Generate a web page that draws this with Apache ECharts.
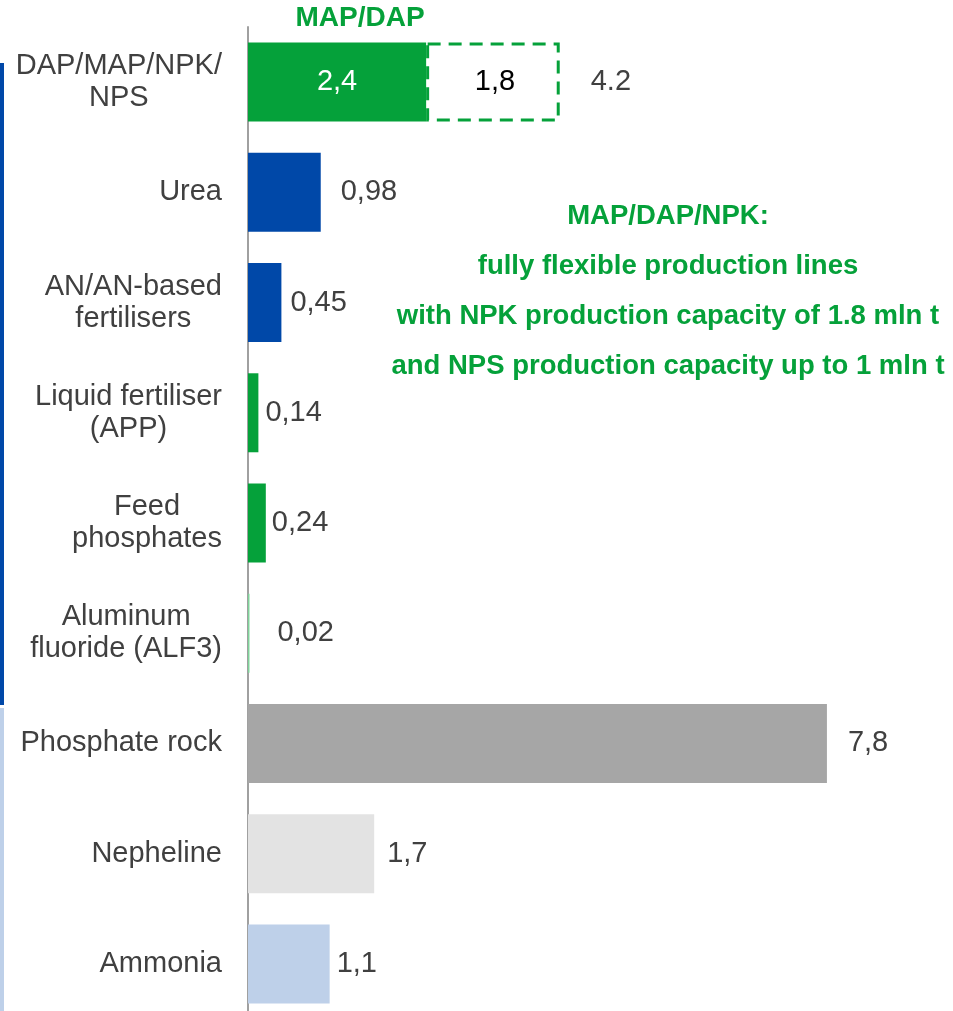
<!DOCTYPE html>
<html>
<head>
<meta charset="utf-8">
<script src="https://cdn.jsdelivr.net/npm/echarts@6/dist/echarts.min.js"></script>
<style>
html,body{margin:0;padding:0;background:#fff;overflow:hidden;}
#chart{width:953px;height:1030px;}
</style>
</head>
<body>
<div id="chart"></div>
<script>
// ---- data ----
const categories = [
  'DAP/MAP/NPK/\nNPS', 'Urea', 'AN/AN-based\nfertilisers', 'Liquid fertiliser\n(APP)',
  'Feed\nphosphates', 'Aluminum\nfluoride (ALF3)', 'Phosphate rock', 'Nepheline', 'Ammonia'
];
const capacity = [2.4, 0.98, 0.45, 0.14, 0.24, 0.02, 7.8, 1.7, 1.1];
const flexibleNPK = [1.8, null, null, null, null, null, null, null, null];
const totalLabel = ['4.2', null, null, null, null, null, null, null, null];
const noteLines = [
  'MAP/DAP/NPK:',
  'fully flexible production lines',
  'with NPK production capacity of 1.8 mln t',
  'and NPS production capacity up to 1 mln t'
];
const topNote = 'MAP/DAP';

// ---- styles ----
const GREEN = '#05a13a', BLUE = '#0048a8', GREY = '#a6a6a6', LGREY = '#e3e3e3', LBLUE = '#bed0e9';
const barColors = [GREEN, BLUE, BLUE, GREEN, GREEN, '#7fd39a', GREY, LGREY, LBLUE];
const labelGap = [0, 20, 9, 7, 6, 28, 21, 13, 7];
const FONT = '"Liberation Sans", Arial, sans-serif';
const TXT = '#404040';
const fmt = v => String(v).replace('.', ',');

const chart = echarts.init(document.getElementById('chart'), null, {renderer: 'canvas'});

const mainData = capacity.map((v, i) => {
  const item = {value: v, itemStyle: {color: barColors[i]}};
  if (flexibleNPK[i] != null) {
    item.label = {show: true, position: 'inside', color: '#fff', formatter: fmt(v)};
  } else {
    item.label = {show: true, position: 'right', distance: labelGap[i], color: TXT, formatter: fmt(v)};
  }
  return item;
});
const flexData = flexibleNPK.map(v => v == null ? '-' : {
  value: v,
  label: {show: true, position: 'inside', color: '#000', offset: [2, 0], formatter: fmt(v)}
});
const totalData = totalLabel.map(t => t == null ? '-' : {
  value: 0,
  label: {show: true, position: 'right', distance: 31, color: TXT, formatter: t}
});

const option = {
  animation: false,
  backgroundColor: '#fff',
  grid: {left: 248, top: 27, width: 668, height: 992, containLabel: false},
  xAxis: {type: 'value', min: 0, max: 9, show: false},
  yAxis: {
    type: 'category', data: categories, inverse: true,
    axisLine: {show: true, lineStyle: {color: '#a0a0a0', width: 2}},
    axisTick: {show: false},
    axisLabel: {
      margin: 26, align: 'right',
      formatter: v => v.split('\n').map(s => '{c|' + s + '}').join('\n'),
      rich: {c: {align: 'center', fontSize: 29, lineHeight: 32, color: TXT, fontFamily: FONT}}
    }
  },
  series: [
    {
      type: 'bar', stack: 'a', barWidth: 79, data: mainData,
      label: {fontSize: 29, fontFamily: FONT}
    },
    {
      type: 'bar', stack: 'a', barWidth: 79, data: flexData,
      itemStyle: {color: '#fff', borderColor: GREEN, borderWidth: 3, borderType: [13, 8]},
      label: {fontSize: 29, fontFamily: FONT}
    },
    {
      type: 'bar', stack: 'a', barWidth: 79, data: totalData,
      itemStyle: {color: 'rgba(0,0,0,0)'},
      label: {fontSize: 29, fontFamily: FONT}
    }
  ],
  graphic: [
    {type: 'rect', left: 0, top: 63, shape: {width: 4, height: 642}, style: {fill: BLUE}},
    {type: 'rect', left: 0, top: 708, shape: {width: 4, height: 303}, style: {fill: LBLUE}},
    {type: 'text', x: 360, y: 18, style: {text: topNote, fill: GREEN, font: 'bold 28px ' + FONT, textAlign: 'center', textVerticalAlign: 'middle'}}
  ].concat(noteLines.map((t, i) => ({
    type: 'text', x: 668, y: 216 + i * 50,
    style: {text: t, fill: GREEN, font: 'bold 27.5px ' + FONT, textAlign: 'center', textVerticalAlign: 'middle'}
  })))
};
chart.setOption(option);
</script>
</body>
</html>
